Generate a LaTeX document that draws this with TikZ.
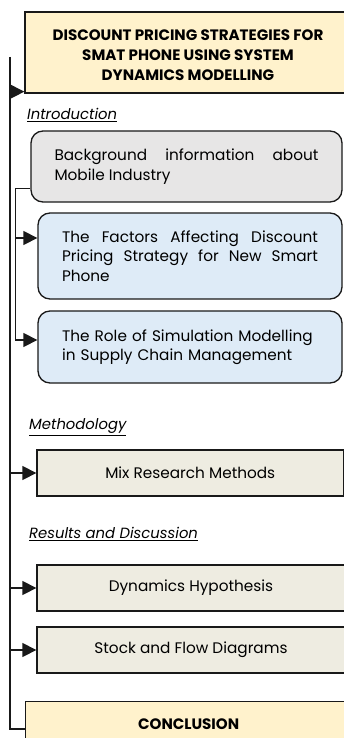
\documentclass[tikz,border=0pt]{standalone}
\usepackage{fontspec}
\setmainfont{Poppins}
\usetikzlibrary{arrows.meta,positioning}

\definecolor{headfill}{RGB}{255,242,204}
\definecolor{greyfill}{RGB}{231,230,230}
\definecolor{bluefill}{RGB}{222,235,247}
\definecolor{tanfill}{RGB}{238,236,225}
\definecolor{edge}{RGB}{25,25,25}

\tikzset{
  headbox/.style={draw=edge, fill=headfill, line width=1.3pt, inner sep=0pt,
    align=center, font=\fontsize{15.1}{20}\selectfont\bfseries},
  roundbox/.style={draw=edge, line width=1.3pt, rounded corners=12pt, inner sep=0pt,
    font=\fontsize{15.3}{19.5}\selectfont},
  tanbox/.style={draw=edge, fill=tanfill, line width=1.3pt, inner sep=0pt,
    minimum height=46, font=\fontsize{15.3}{19}\selectfont},
  seclabel/.style={anchor=west, inner sep=0pt, font=\fontsize{14.8}{17}\selectfont\itshape},
  link/.style={draw=edge, line width=1.3pt},
  arr/.style={link, -{Triangle[length=14pt,width=14pt]}}
}

\begin{document}
\begin{tikzpicture}[x=1pt,y=-1pt]
  \useasboundingbox (0,0) rectangle (344,738);
  \clip (0,0) rectangle (344,738);

  % title and chapter boxes
  \node[headbox, minimum width=326, minimum height=81, text height=56pt, text depth=0pt] (title) at (188,52.5)
    {DISCOUNT PRICING STRATEGIES FOR\\SMAT PHONE USING SYSTEM\\DYNAMICS MODELLING};

  \node[seclabel] (intro) at (27,115) {\underline{Introduction}};
  \node[roundbox, fill=greyfill, minimum width=311, minimum height=71,
    text width=264, align=justify] (bg) at (186.5,166.5)
    {Background information about\linebreak Mobile Industry};
  \node[roundbox, fill=bluefill, minimum width=304, minimum height=86,
    text width=256, align=justify] (fac) at (190,256)
    {The Factors Affecting Discount\linebreak Pricing Strategy for New Smart\linebreak Phone};
  \node[roundbox, fill=bluefill, minimum width=304, minimum height=72,
    text width=256, align=left] (role) at (190,347)
    {The Role of Simulation Modelling\\in Supply Chain Management};

  \node[seclabel] (meth) at (29,427) {\underline{Methodology}};
  \node[tanbox, minimum width=306.5] (mix) at (190.25,473) {Mix Research Methods};

  \node[seclabel] (res) at (29,534) {\underline{Results and Discussion}};
  \node[tanbox, minimum width=308] (dyn) at (191,588) {Dynamics Hypothesis};
  \node[tanbox, minimum width=308] (stock) at (191,650) {Stock and Flow Diagrams};

  \node[headbox, minimum width=326, minimum height=46, anchor=north west] (concl) at (25,701)
    {CONCLUSION};

  % main spine
  \coordinate (spinetop) at (10,57);
  \coordinate (spinebot) at (10,729);
  \coordinate (titlein) at ([yshift=2pt]title.south west);
  \draw[link] (spinetop) -- (spinebot) -- (spinebot -| concl.west);
  \draw[arr] (titlein -| spinetop) -- (titlein);
  \draw[arr] (mix.west -| spinetop) -- (mix.west);
  \draw[arr] (dyn.west -| spinetop) -- (dyn.west);
  \draw[arr] (stock.west -| spinetop) -- (stock.west);

  % introduction branch
  \coordinate (bgout) at ([yshift=14pt]bg.south west);
  \coordinate (subtop) at ([xshift=-15pt]bgout);
  \coordinate (facin) at ([yshift=18pt]fac.west);
  \coordinate (rolein) at ([yshift=7pt]role.west);
  \draw[arr] (bgout) -- (subtop) |- (rolein);
  \draw[arr] (subtop |- facin) -- (facin);
\end{tikzpicture}
\end{document}
